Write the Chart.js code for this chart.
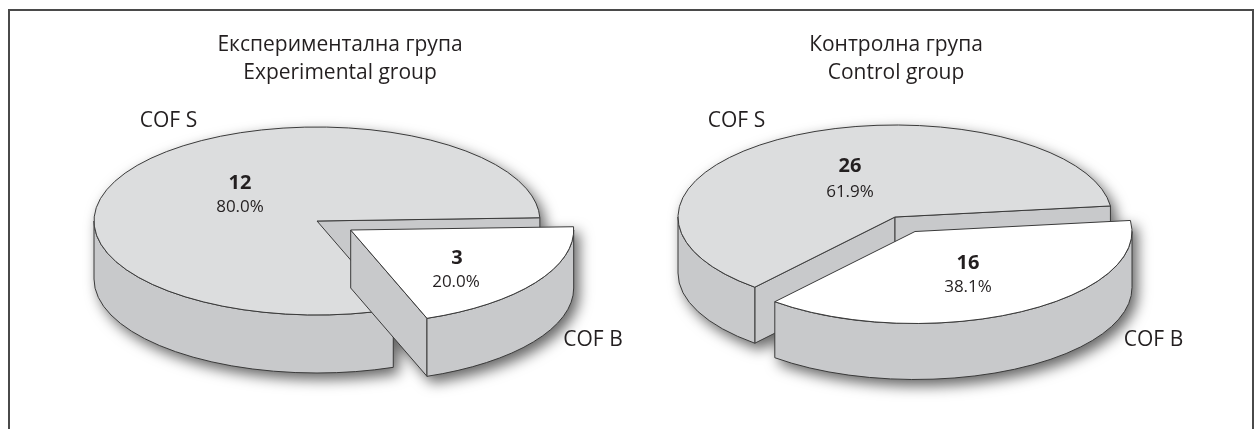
<!DOCTYPE html>
<html>
<head>
<meta charset="utf-8">
<title>COF S / COF B</title>
<script src="https://cdn.jsdelivr.net/npm/chart.js@4"></script>
<style>
  html, body { margin: 0; background: #fff; overflow: hidden; }
  #stage { position: relative; width: 1255px; height: 429px; font-family: "Open Sans", sans-serif; color: #231f20; }
  #frame { position: absolute; left: 8px; top: 9px; width: 1246px; height: 430px; border: 2px solid #4a4a4a; box-sizing: border-box; }
  .pie { position: absolute; left: 0; top: 0; filter: drop-shadow(5px 6px 7px rgba(0, 0, 0, 0.6)); }
  .txt { position: absolute; line-height: 1; white-space: nowrap; transform: translateX(-50%); }
</style>
</head>
<body>
<div id="stage">
  <div id="frame"></div>
  <canvas id="pieLeft" class="pie"></canvas>
  <canvas id="pieRight" class="pie"></canvas>
</div>
<script>
const categories = ['COF B', 'COF S'];
const experimentalValues = [3, 12];
const controlValues = [16, 26];
const experimentalTitle = ['Експериментална група', 'Experimental group'];
const controlTitle = ['Контролна група', 'Control group'];

const TOP_COLORS = ['#ffffff', '#dcddde'];
const WALL = '#c8c9cb';
const LINE = '#3a3a3a';
const W = 1255;
const H = 429;

// squashes the flat Chart.js pie and gives it side walls
const pie3d = {
  id: 'pie3d',
  beforeDatasetsDraw(chart, args, opts) {
    const ctx = chart.ctx;
    const arcs = chart.getDatasetMeta(0).data;
    // gray slice first, the pulled out one goes over it
    [1, 0].forEach(function (i) {
      const el = arcs[i];
      const cx = opts.cx + opts.explode[i][0];
      const cy = opts.cy + opts.explode[i][1];
      drawWalls(ctx, el, cx, cy, opts);

      ctx.save();
      ctx.translate(cx, cy);
      ctx.scale(opts.rx / el.outerRadius, opts.ry / el.outerRadius);
      ctx.translate(-el.x, -el.y);
      el.draw(ctx);
      ctx.restore();

      ctx.beginPath();
      ctx.moveTo(cx, cy);
      ctx.ellipse(cx, cy, opts.rx, opts.ry, 0, el.startAngle, el.endAngle);
      ctx.closePath();
      ctx.strokeStyle = LINE;
      ctx.lineWidth = 1;
      ctx.stroke();
    });
    return false;
  },
};

function drawWalls(ctx, el, cx, cy, o) {
  const s = el.startAngle;
  const e = el.endAngle;
  ctx.fillStyle = WALL;
  ctx.strokeStyle = LINE;
  ctx.lineWidth = 1;

  // flat cut faces, only the ones looking at the viewer
  [[s, s - Math.PI / 2], [e, e + Math.PI / 2]].forEach(function (f) {
    if (Math.sin(f[1]) <= 0) return;
    const px = cx + o.rx * Math.cos(f[0]);
    const py = cy + o.ry * Math.sin(f[0]);
    ctx.beginPath();
    ctx.moveTo(cx, cy);
    ctx.lineTo(px, py);
    ctx.lineTo(px, py + o.depth);
    ctx.lineTo(cx, cy + o.depth);
    ctx.closePath();
    ctx.fill();
    ctx.stroke();
  });

  // curved outer wall, front half only
  const a1 = Math.max(s, 0);
  const a2 = Math.min(e, Math.PI);
  if (a2 > a1) {
    ctx.beginPath();
    ctx.ellipse(cx, cy, o.rx, o.ry, 0, a1, a2);
    ctx.ellipse(cx, cy + o.depth, o.rx, o.ry, 0, a2, a1, true);
    ctx.closePath();
    ctx.fill();
    ctx.stroke();
  }
}

function makePie(id, values, rotation, shape) {
  return new Chart(document.getElementById(id), {
    type: 'pie',
    data: {
      labels: categories,
      datasets: [{ data: values, backgroundColor: TOP_COLORS, borderWidth: 0, radius: 200 }],
    },
    options: {
      responsive: false,
      animation: false,
      events: [],
      rotation: rotation,
      plugins: { legend: { display: false }, tooltip: { enabled: false }, pie3d: shape },
    },
    plugins: [pie3d],
  });
}

document.getElementById('pieLeft').width = W;
document.getElementById('pieLeft').height = H;
document.getElementById('pieRight').width = W;
document.getElementById('pieRight').height = H;

makePie('pieLeft', experimentalValues, 88, { cx: 317, cy: 221, rx: 223, ry: 94, depth: 58, explode: [[33.7, 9], [0, 0]] });
makePie('pieRight', controlValues, 83.1, { cx: 895, cy: 217, rx: 217, ry: 92, depth: 56, explode: [[20, 14.5], [0, 0]] });

// texts sit in the page so the canvas drop shadow does not touch them
function addText(str, x, baseline, size, bold) {
  const d = document.createElement('div');
  d.className = 'txt';
  d.textContent = str;
  d.style.left = x + 'px';
  d.style.top = (baseline - size * 0.888) + 'px';
  d.style.fontSize = size + 'px';
  if (bold) d.style.fontWeight = '700';
  document.getElementById('stage').appendChild(d);
}

function pct(values, i) {
  const total = values[0] + values[1];
  return (values[i] / total * 100).toFixed(1) + '%';
}

addText(experimentalTitle[0], 340, 52, 21);
addText(experimentalTitle[1], 340, 80, 21);
addText(controlTitle[0], 896, 52, 21);
addText(controlTitle[1], 896, 80, 21);

addText(categories[1], 168.5, 128, 21);
addText(categories[0], 593, 347, 21);
addText(categories[1], 736.5, 128, 21);
addText(categories[0], 1153.5, 347, 21);

addText(String(experimentalValues[1]), 240, 190, 20, true);
addText(pct(experimentalValues, 1), 240, 212, 17);
addText(String(experimentalValues[0]), 457, 265, 20, true);
addText(pct(experimentalValues, 0), 456, 287, 17);
addText(String(controlValues[1]), 850, 173, 20, true);
addText(pct(controlValues, 1), 850, 197, 17);
addText(String(controlValues[0]), 968, 270, 20, true);
addText(pct(controlValues, 0), 968, 292, 17);
</script>
</body>
</html>
